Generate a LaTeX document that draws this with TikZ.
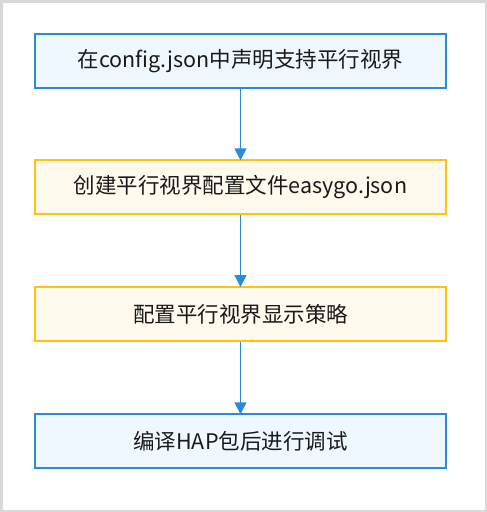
\documentclass[tikz,border=0pt]{standalone}
\usepackage{fontspec}
\setmainfont{Noto Sans CJK SC}
\usetikzlibrary{arrows.meta}
\definecolor{bblue}{HTML}{2B8AD9}
\definecolor{bfill}{HTML}{F0F8FF}
\definecolor{oline}{HTML}{FFC20E}
\definecolor{ofill}{HTML}{FFF9EE}
\definecolor{frame}{HTML}{D9D9D9}
\definecolor{txt}{HTML}{1A1A1A}
\tikzset{
  bluebox/.style={draw=bblue, fill=bfill, line width=2pt, minimum width=411pt, minimum height=54pt, inner sep=0pt, text=txt, font=\fontsize{21.5pt}{24pt}\selectfont},
  orangebox/.style={bluebox, draw=oline, fill=ofill},
  flow/.style={draw=bblue, line width=1.5pt, -{Triangle[length=12pt,width=12pt]}, shorten >=-1pt}
}
\begin{document}
\begin{tikzpicture}[x=1pt,y=-1pt]
\useasboundingbox (0,0) rectangle (487,512);
\draw[frame, line width=2.5pt] (1.25,1.25) rectangle (485.75,510.75);
\node[bluebox] (a) at (240.5,61.3) {在config.json中声明支持平行视界};
\node[orangebox] (b) at (240.5,187.3) {创建平行视界配置文件easygo.json};
\node[orangebox] (c) at (240.5,314) {配置平行视界显示策略};
\node[bluebox] (d) at (240.5,441.3) {编译HAP包后进行调试};
\draw[flow] (a) -- (b);
\draw[flow] (b) -- (c);
\draw[flow] (c) -- (d);
\end{tikzpicture}
\end{document}
